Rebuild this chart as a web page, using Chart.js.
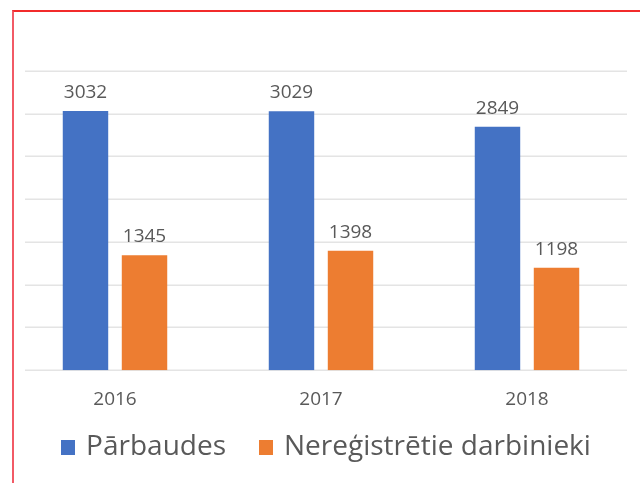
<!DOCTYPE html>
<html lang="lv">
<head>
<meta charset="utf-8">
<title>Pārbaudes un nereģistrētie darbinieki</title>
<script src="https://cdn.jsdelivr.net/npm/chart.js@4.4.1/dist/chart.umd.min.js"></script>
<style>
    html, body {
        margin: 0;
        padding: 0;
        background: #ffffff;
    }
    #wrap {
        position: relative;
        width: 640px;
        height: 483px;
        overflow: hidden;
    }
    #frame {
        position: absolute;
        left: 12px;
        top: 10px;
        width: 640px;
        height: 500px;
        border-top: 2px solid #f22b2b;
        border-left: 2px solid #f25a66;
        pointer-events: none;
    }
</style>
</head>
<body>
<div id="wrap">
    <canvas id="barChart" width="640" height="483"></canvas>
    <div id="frame"></div>
</div>

<script>
/* =========================================================
   DATA
========================================================= */
const years = ["2016", "2017", "2018"];
const inspections = [3032, 3029, 2849];
const unregistered = [1345, 1398, 1198];
const yTicks = [0, 500, 1000, 1500, 2000, 2500, 3000, 3500];

const seriesNames = ["Pārbaudes", "Nereģistrētie darbinieki"];

const blue = "#4472c4";
const orange = "#ed7d31";
const textGray = "#595959";
const fontFamily = "'Open Sans', 'Noto Sans', sans-serif";

/* =========================================================
   PLUGINS
========================================================= */
// horizontal gridlines, a bit narrower than the chart area
const gridLines = {
    id: "gridLines",
    beforeDatasetsDraw(chart) {
        const { ctx, chartArea, scales } = chart;
        ctx.save();
        ctx.strokeStyle = "#e4e4e4";
        ctx.lineWidth = 1.5;
        yTicks.forEach(v => {
            const y = Math.round(scales.y.getPixelForValue(v)) + 0.25;
            ctx.beginPath();
            ctx.moveTo(chartArea.left + 13, y);
            ctx.lineTo(chartArea.right - 3, y);
            ctx.stroke();
        });
        ctx.restore();
    }
};

// value labels above every bar
const valueLabels = {
    id: "valueLabels",
    afterDatasetsDraw(chart) {
        const { ctx } = chart;
        ctx.save();
        ctx.font = "19px " + fontFamily;
        ctx.fillStyle = textGray;
        ctx.textAlign = "center";
        ctx.textBaseline = "alphabetic";
        chart.data.datasets.forEach((ds, i) => {
            chart.getDatasetMeta(i).data.forEach((bar, j) => {
                ctx.fillText(String(ds.data[j]), bar.x, bar.y - 13);
            });
        });
        ctx.restore();
    }
};

// legend row under the axis (Excel style: small square, tight gap)
const bottomLegend = {
    id: "bottomLegend",
    afterDraw(chart) {
        const { ctx } = chart;
        const box = 14, boxH = 15, gap = 11, itemGap = 33;
        const centerX = 326, midY = 447;

        ctx.save();
        ctx.font = "28px " + fontFamily;
        ctx.textBaseline = "middle";
        ctx.textAlign = "left";

        const items = chart.data.datasets.map(ds => ({
            text: ds.label,
            color: ds.backgroundColor,
            w: ctx.measureText(ds.label).width
        }));
        const total = items.reduce((s, it) => s + box + gap + it.w, 0) + itemGap * (items.length - 1);

        let x = centerX - total / 2;
        items.forEach(it => {
            ctx.fillStyle = it.color;
            ctx.fillRect(Math.round(x), Math.round(midY - boxH / 2), box, boxH);
            ctx.fillStyle = textGray;
            ctx.fillText(it.text, x + box + gap, midY);
            x += box + gap + it.w + itemGap;
        });
        ctx.restore();
    }
};

/* =========================================================
   CHART
========================================================= */
const chart = new Chart(document.getElementById("barChart"), {
    type: "bar",
    data: {
        labels: years,
        datasets: [
            {
                label: seriesNames[0],
                data: inspections,
                backgroundColor: blue,
                borderWidth: 0
            },
            {
                label: seriesNames[1],
                data: unregistered,
                backgroundColor: orange,
                borderWidth: 0
            }
        ]
    },
    options: {
        responsive: false,
        animation: false,
        devicePixelRatio: 1,
        categoryPercentage: 0.573,
        barPercentage: 0.77,
        layout: {
            padding: { left: 12, right: 10, top: 71, bottom: 54 }
        },
        scales: {
            x: {
                grid: { display: false, drawTicks: false },
                border: { display: false },
                ticks: {
                    color: textGray,
                    padding: 18,
                    font: { family: fontFamily, size: 19 }
                }
            },
            y: {
                display: false,
                min: 0,
                max: 3500,
                ticks: { stepSize: 500 }
            }
        },
        plugins: {
            tooltip: { enabled: false },
            legend: { display: false }
        }
    },
    plugins: [gridLines, valueLabels, bottomLegend]
});
</script>
</body>
</html>
